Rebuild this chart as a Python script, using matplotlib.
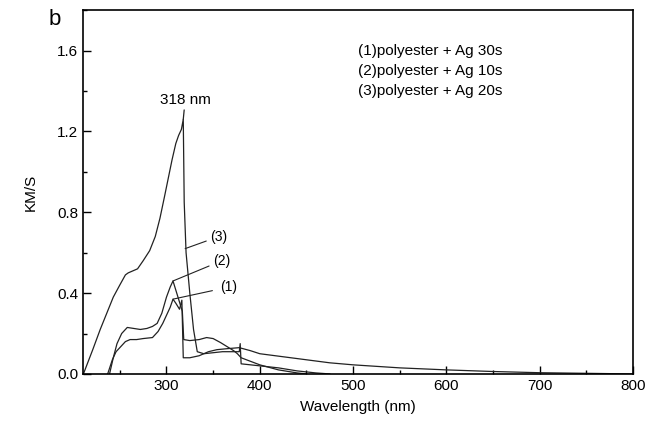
import matplotlib
matplotlib.use("Agg")
import matplotlib.pyplot as plt
from matplotlib.ticker import MultipleLocator

plt.rcParams['font.family'] = ['Liberation Sans', 'DejaVu Sans']

# curve (1) polyester + Ag 30s
wl1 = [237, 242, 246, 250, 256, 261, 268, 275, 285, 291, 296, 300, 304, 307, 310, 314, 316.5,
       318, 325, 335, 345, 354, 365, 378, 390, 400, 425, 450, 475, 500, 550, 600, 650, 700, 750, 800]
km1 = [0.0, 0.07, 0.11, 0.13, 0.16, 0.17, 0.17, 0.175, 0.18, 0.21, 0.25, 0.29, 0.33, 0.37, 0.35, 0.32, 0.365,
       0.08, 0.08, 0.09, 0.11, 0.12, 0.125, 0.13, 0.115, 0.10, 0.085, 0.07, 0.055, 0.045, 0.03, 0.02, 0.012, 0.006, 0.003, 0.0]

# curve (2) polyester + Ag 10s
wl2 = [239, 243, 247, 252, 258, 265, 272, 279, 285, 290, 295, 300, 304, 307, 311, 315, 317,
       318.5, 325, 335, 343, 350, 358, 365, 372, 376, 380, 400, 420, 440, 450]
km2 = [0.0, 0.08, 0.15, 0.20, 0.23, 0.225, 0.22, 0.225, 0.235, 0.25, 0.30, 0.38, 0.43, 0.46, 0.40, 0.34, 0.31,
       0.17, 0.165, 0.17, 0.18, 0.175, 0.155, 0.135, 0.115, 0.10, 0.08, 0.045, 0.02, 0.005, 0.0]

# curve (3) polyester + Ag 20s
wl3 = [211, 221, 229, 236, 243, 250, 256, 259, 264, 269, 275, 282, 288, 293, 298, 302, 306, 310, 313, 316,
       318, 319, 321, 325, 329, 333, 340, 350, 360, 370, 378, 379, 380, 400, 420, 440, 460, 475]
km3 = [0.0, 0.12, 0.22, 0.30, 0.38, 0.44, 0.49, 0.50, 0.51, 0.52, 0.56, 0.61, 0.68, 0.77, 0.88, 0.97, 1.06, 1.14, 1.18, 1.21,
       1.26, 0.85, 0.60, 0.40, 0.22, 0.11, 0.10, 0.105, 0.11, 0.11, 0.11, 0.15, 0.05, 0.04, 0.03, 0.015, 0.005, 0.0]

legend_lines = ["(1)polyester + Ag 30s", "(2)polyester + Ag 10s", "(3)polyester + Ag 20s"]

fig = plt.figure(figsize=(6.48, 4.23), dpi=100)
ax = fig.add_axes([0.128, 0.116, 0.849, 0.86])

lc = '#222222'
for x, y in [(wl1, km1), (wl2, km2), (wl3, km3)]:
    ax.plot(x, y, color=lc, lw=0.9)

ax.set_xlim(210.5, 800)
ax.set_ylim(0, 1.8)
ax.xaxis.set_major_locator(MultipleLocator(100))
ax.xaxis.set_minor_locator(MultipleLocator(50))
ax.yaxis.set_major_locator(MultipleLocator(0.4))
ax.yaxis.set_minor_locator(MultipleLocator(0.2))
ax.yaxis.set_major_formatter(plt.FuncFormatter(lambda v, p: f"{v:.1f}"))
ax.tick_params(which='both', direction='in', top=False, right=False, labelsize=11)
ax.tick_params(which='major', length=6, width=1)
ax.tick_params(which='minor', length=3, width=1)
for s in ax.spines.values():
    s.set_linewidth(1.2)

ax.set_xlabel("Wavelength (nm)", fontsize=11, labelpad=5)
ax.set_ylabel("KM/S", fontsize=11, labelpad=14)

# peak annotation
ax.annotate("318 nm", xy=(318, 1.26), xytext=(320, 1.32), ha='center', va='bottom', fontsize=11,
            arrowprops=dict(arrowstyle='-', color=lc, lw=0.9, shrinkA=0, shrinkB=0,
                            connectionstyle='arc,angleA=-90,angleB=90,armA=0,armB=0,rad=0'))

ax.annotate("(3)", xy=(320, 0.62), xytext=(347, 0.68), ha='left', va='center', fontsize=10,
            arrowprops=dict(arrowstyle='-', color=lc, lw=0.8, shrinkA=1, shrinkB=0))
ax.annotate("(2)", xy=(307, 0.46), xytext=(350, 0.56), ha='left', va='center', fontsize=10,
            arrowprops=dict(arrowstyle='-', color=lc, lw=0.8, shrinkA=1, shrinkB=0))
ax.annotate("(1)", xy=(307, 0.37), xytext=(358, 0.43), ha='left', va='center', fontsize=10,
            arrowprops=dict(arrowstyle='-', color=lc, lw=0.8, shrinkA=4, shrinkB=0))

for i, t in enumerate(legend_lines):
    ax.text(0.5, 0.887 - i * 0.054, t, transform=ax.transAxes, fontsize=11, va='center', ha='left')

fig.text(0.075, 0.953, "b", fontsize=16, va='center', ha='left')

fig.savefig("out.png", dpi=100)
